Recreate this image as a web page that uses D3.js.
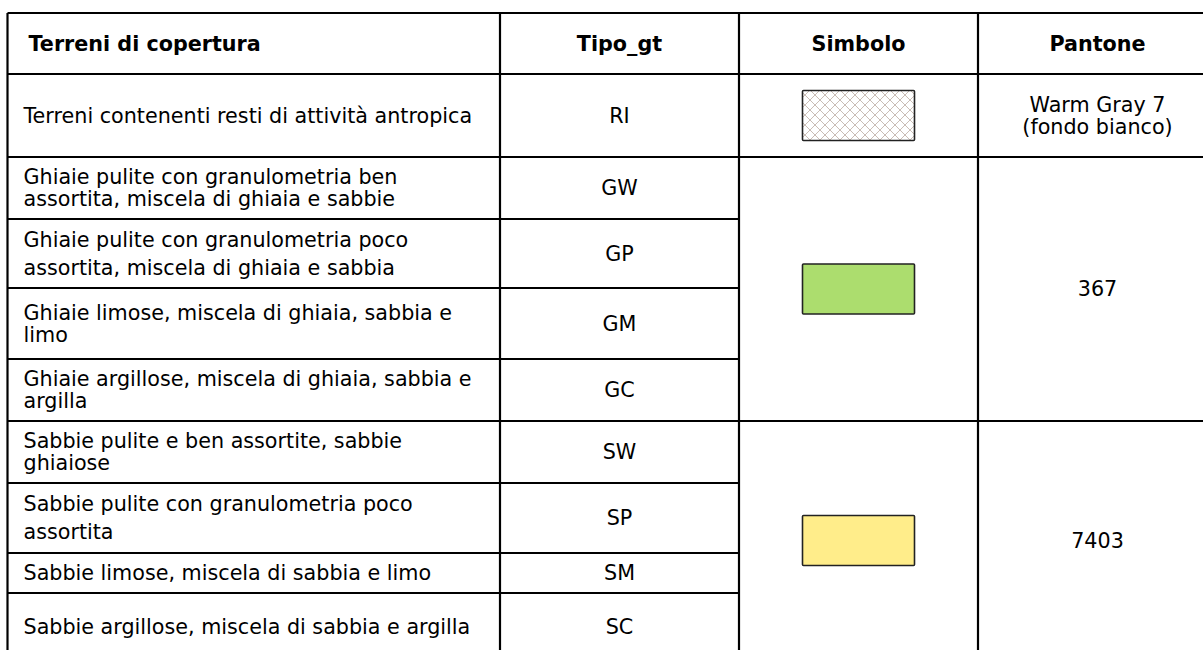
<!DOCTYPE html>
<html>
<head>
<meta charset="utf-8">
<script src="https://cdn.jsdelivr.net/npm/d3@7"></script>
<style>
  html, body { margin: 0; padding: 0; background: #ffffff; }
  svg { display: block; }
</style>
</head>
<body>
<svg id="chart" width="1203" height="650"></svg>
<script>
// ---------- DATA ----------
const headers = ["Terreni di copertura", "Tipo_gt", "Simbolo", "Pantone"];
const codes = ["RI", "GW", "GP", "GM", "GC", "SW", "SP", "SM", "SC"];
const descriptions = [
  ["Terreni contenenti resti di attività antropica"],
  ["Ghiaie pulite con granulometria ben", "assortita, miscela di ghiaia e sabbie"],
  ["Ghiaie pulite con granulometria poco", "assortita, miscela di ghiaia e sabbia"],
  ["Ghiaie limose, miscela di ghiaia, sabbia e", "limo"],
  ["Ghiaie argillose, miscela di ghiaia, sabbia e", "argilla"],
  ["Sabbie pulite e ben assortite, sabbie", "ghiaiose"],
  ["Sabbie pulite con granulometria poco", "assortita"],
  ["Sabbie limose, miscela di sabbia e limo"],
  ["Sabbie argillose, miscela di sabbia e argilla"]
];
const groupFirst = ["RI", "GW", "SW"];
const groupLast = ["RI", "GC", "SC"];
const pantoneLabels = [["Warm Gray 7", "(fondo bianco)"], ["367"], ["7403"]];
const symbolKinds = ["hatch", "green", "yellow"];

// ---------- LAYOUT / STYLE ----------
const layout = {
  left: 7.5,
  colWidths: [492.5, 239, 239, 239],
  headerTop: 13,
  headerH: 61,
  rowH: [83, 62, 69, 71, 62, 62, 70, 40, 67],
  lineGap: [22, 22, 28, 22, 22, 22, 28, 22, 22],
  fontSize: 20.7,
  padLeft: 16,
  headerPadLeft: 21,
  symW: 112, symH: 50
};
const symbolFill = { hatch: "url(#hatch)", green: "#acdd6e", yellow: "#ffed8a" };
const FONT = "'DejaVu Sans', Verdana, sans-serif";

const svg = d3.select("#chart");

// hatch pattern
const defs = svg.append("defs");
const pat = defs.append("pattern")
  .attr("id", "hatch").attr("patternUnits", "userSpaceOnUse")
  .attr("width", 10).attr("height", 10)
  .attr("x", 0).attr("y", 0);
pat.append("rect").attr("width", 10).attr("height", 10).attr("fill", "#ffffff");
pat.append("path").attr("d", "M0,0L10,10M10,0L0,10M-1,9L1,11M9,-1L11,1M9,11L11,9M-1,1L1,-1")
  .attr("stroke", "#c4b6ad").attr("stroke-width", 0.9).attr("fill", "none");

// column scale (ordinal from column index to left x)
const colLefts = layout.colWidths.map((w, i) => layout.left + d3.sum(layout.colWidths.slice(0, i)));
const xCol = d3.scaleOrdinal().domain(d3.range(headers.length)).range(colLefts);
const colW = d3.scaleOrdinal().domain(d3.range(headers.length)).range(layout.colWidths);

// row scales
const rowTops = layout.rowH.map((h, i) => layout.headerTop + layout.headerH + d3.sum(layout.rowH.slice(0, i)));
const yTop = d3.scaleOrdinal().domain(codes).range(rowTops);
const yH = d3.scaleOrdinal().domain(codes).range(layout.rowH);
const tableBottom = rowTops[rowTops.length - 1] + layout.rowH[layout.rowH.length - 1];
const tableRight = colLefts[3] + layout.colWidths[3];

const g = svg.append("g");

// ---------- HEADER ----------
g.selectAll("text.hdr").data(headers).join("text")
  .attr("class", "hdr")
  .attr("x", (d, i) => i === 0 ? xCol(0) + layout.headerPadLeft : xCol(i) + colW(i) / 2)
  .attr("y", layout.headerTop + layout.headerH / 2)
  .attr("dy", "0.35em")
  .attr("text-anchor", (d, i) => i === 0 ? "start" : "middle")
  .attr("font-family", FONT).attr("font-weight", "bold")
  .attr("font-size", layout.fontSize).attr("fill", "#000")
  .text(d => d);

// ---------- DESCRIPTIONS ----------
const descG = g.selectAll("g.desc").data(codes).join("g").attr("class", "desc");
descG.each(function (code, i) {
  const lines = descriptions[i];
  const gap = layout.lineGap[i];
  const cy = yTop(code) + yH(code) / 2;
  const y0 = cy - (lines.length - 1) * gap / 2;
  d3.select(this).selectAll("text").data(lines).join("text")
    .attr("x", xCol(0) + layout.padLeft)
    .attr("y", (d, j) => y0 + j * gap)
    .attr("dy", "0.35em")
    .attr("font-family", FONT).attr("font-size", layout.fontSize).attr("fill", "#000")
    .text(d => d);
});

// ---------- CODES ----------
g.selectAll("text.code").data(codes).join("text")
  .attr("class", "code")
  .attr("x", xCol(1) + colW(1) / 2)
  .attr("y", d => yTop(d) + yH(d) / 2)
  .attr("dy", "0.35em")
  .attr("text-anchor", "middle")
  .attr("font-family", FONT).attr("font-size", layout.fontSize).attr("fill", "#000")
  .text(d => d);

// ---------- GROUPS (symbol + pantone) ----------
const groups = groupFirst.map((f, i) => {
  const top = yTop(f);
  const bottom = yTop(groupLast[i]) + yH(groupLast[i]);
  return { top, bottom, cy: (top + bottom) / 2, labels: pantoneLabels[i], kind: symbolKinds[i] };
});

g.selectAll("rect.sym").data(groups).join("rect")
  .attr("class", "sym")
  .attr("x", xCol(2) + colW(2) / 2 - layout.symW / 2)
  .attr("y", d => d.cy - layout.symH / 2)
  .attr("width", layout.symW).attr("height", layout.symH)
  .attr("rx", 1)
  .attr("fill", d => symbolFill[d.kind])
  .attr("stroke", "#222").attr("stroke-width", 1.6);

groups.forEach(gr => {
  const gap = 22;
  const y0 = gr.cy - (gr.labels.length - 1) * gap / 2;
  g.append("g").selectAll("text").data(gr.labels).join("text")
    .attr("x", xCol(3) + colW(3) / 2)
    .attr("y", (d, j) => y0 + j * gap)
    .attr("dy", "0.35em")
    .attr("text-anchor", "middle")
    .attr("font-family", FONT).attr("font-size", layout.fontSize).attr("fill", "#000")
    .text(d => d);
});

// ---------- GRID LINES ----------
const lines = g.append("g").attr("stroke", "#000").attr("stroke-width", 2.2).attr("fill", "none");
lines.append("line").attr("x1", layout.left).attr("x2", tableRight)
  .attr("y1", layout.headerTop).attr("y2", layout.headerTop);
lines.append("line").attr("x1", layout.left).attr("x2", tableRight)
  .attr("y1", layout.headerTop + layout.headerH).attr("y2", layout.headerTop + layout.headerH);
codes.forEach(c => {
  const yb = yTop(c) + yH(c);
  const isGroupEnd = groupLast.includes(c);
  lines.append("line").attr("x1", layout.left)
    .attr("x2", isGroupEnd ? tableRight : xCol(2))
    .attr("y1", yb).attr("y2", yb);
});
[0, 1, 2, 3].forEach(i => {
  lines.append("line").attr("x1", xCol(i)).attr("x2", xCol(i))
    .attr("y1", layout.headerTop).attr("y2", tableBottom);
});
lines.append("line").attr("x1", tableRight).attr("x2", tableRight)
  .attr("y1", layout.headerTop).attr("y2", tableBottom);
</script>
</body>
</html>
